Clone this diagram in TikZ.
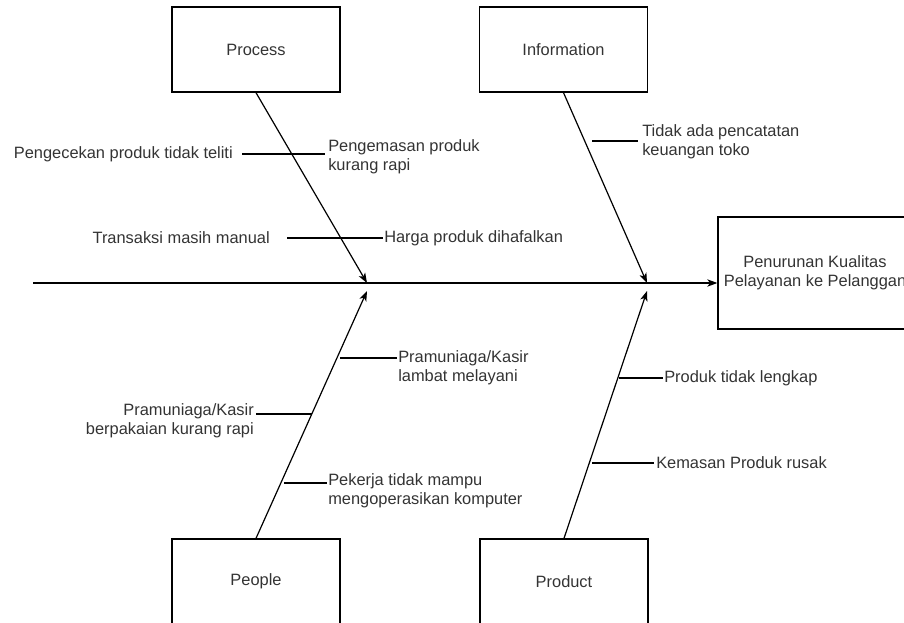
\documentclass[tikz,border=0pt]{standalone}
\usepackage{fontspec}
\setmainfont{Liberation Sans}
\usetikzlibrary{arrows.meta,calc}
\definecolor{txt}{HTML}{333333}
\begin{document}
\begin{tikzpicture}[x=0.75pt,y=-0.75pt,
  every node/.style={font=\fontsize{12.3}{14.3}\selectfont, text=txt},
  cat/.style={draw=black, line width=1pt, minimum width=126pt, minimum height=63.75pt, inner sep=0pt},
  lab/.style={inner sep=0pt, align=left},
  labr/.style={inner sep=0pt, align=right},
  bone/.style={draw=black, line width=0.9pt, -{Stealth[length=7.5pt,width=5.5pt,inset=2pt]}},
  rib/.style={draw=black, line width=0.9pt}]
\useasboundingbox (0,0) rectangle (904,622);

% category boxes
\node[cat] (proc) at (256,49.5) {Process};
\node[cat] (info) at (563.5,49.5) {Information};
\node[cat] (peop) at (256,581.5) {People};
\node[cat] (prod) at (564,581.5) {Product};
\node[cat, minimum width=145.5pt, minimum height=84pt, align=center] (eff) at (815,273)
  {Penurunan Kualitas\\Pelayanan ke Pelanggan};

% spine
\coordinate (ms) at (33,283);
\coordinate (t1) at (367,283);
\coordinate (t2) at (647,283);
\coordinate (t3) at (367,291);
\coordinate (t4) at (647,291);
\draw[bone] (ms) -- (ms -| eff.west);

% bones
\draw[bone] (proc.south) -- (t1);
\draw[bone] (info.south) -- (t2);
\draw[bone] (peop.north) -- (t3);
\draw[bone] (prod.north) -- (t4);

% labels
\node[lab, anchor=east] (pc) at (233,154) {Pengecekan produk tidak teliti};
\node[lab, anchor=west] (pm) at (328,156.5) {Pengemasan produk\\kurang rapi};
\node[lab, anchor=east] (tm) at (270,238) {Transaksi masih manual};
\node[lab, anchor=west] (hp) at (384,238) {Harga produk dihafalkan};
\node[lab, anchor=west] (tp) at (642,141.5) {Tidak ada pencatatan\\keuangan toko};
\node[lab, anchor=west] (pl) at (398,367.5) {Pramuniaga/Kasir\\lambat melayani};
\node[labr, anchor=east] (pb) at (254,421) {Pramuniaga/Kasir\\berpakaian kurang rapi};
\node[lab, anchor=west] (pk) at (328,491) {Pekerja tidak mampu\\mengoperasikan komputer};
\node[lab, anchor=west] (pt) at (664,378) {Produk tidak lengkap};
\node[lab, anchor=west] (kp) at (656,463) {Kemasan Produk rusak};

% ribs
\draw[rib] ($(pc.east)+(9,0)$) -- ($(pm.west |- pc.east)+(-3,0)$);
\draw[rib] ($(tm.east)+(17,0)$) -- ($(hp.west)+(-1,0)$);
\draw[rib] ($(tp.west)+(-50,-0.5)$) -- ($(tp.west)+(-4,-0.5)$);
\draw[rib] ($(pl.west)+(-58,-9.5)$) -- ($(pl.west)+(-1,-9.5)$);
\draw[rib] ($(pb.east)+(2,-7)$) -- ($(pb.east)+(58,-7)$);
\draw[rib] ($(pk.west)+(-44,-8)$) -- ($(pk.west)+(-1,-8)$);
\draw[rib] ($(pt.west)+(-45,0)$) -- ($(pt.west)+(-1,0)$);
\draw[rib] ($(kp.west)+(-64,0)$) -- ($(kp.west)+(-2,0)$);
\end{tikzpicture}
\end{document}
